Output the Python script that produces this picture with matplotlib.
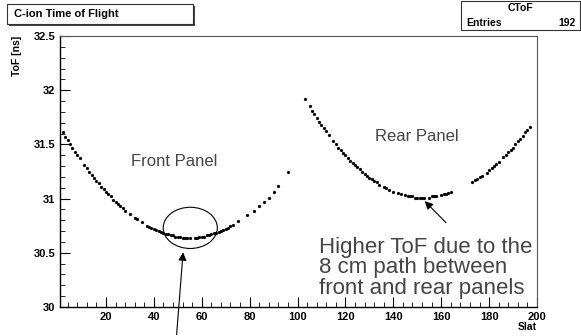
import numpy as np
import matplotlib.pyplot as plt
from matplotlib.patches import Ellipse, Rectangle

# Front panel slats and ToF [ns]
front_slat = [2, 3, 4, 5, 6, 7, 8, 9,
              11, 12, 13, 14, 15, 16, 17, 18, 19, 20, 21, 22, 23, 24, 25, 26, 27, 28,
              30, 32, 33, 35,
              37, 38, 39, 40, 41, 42, 43, 44, 45, 46, 47, 48, 49, 50, 51, 52, 53, 54, 55,
              57, 58, 59, 60, 61, 62, 63, 64, 65, 66, 67, 68, 69, 70, 71, 72, 73,
              75, 79, 82, 84, 86, 88, 90, 92, 96]
front_tof = [31.61, 31.57, 31.54, 31.50, 31.47, 31.43, 31.40, 31.37,
             31.31, 31.28, 31.25, 31.22, 31.19, 31.16, 31.14, 31.11, 31.09, 31.06, 31.04, 31.02,
             30.99, 30.97, 30.95, 30.93, 30.91, 30.89,
             30.86, 30.82, 30.81, 30.78,
             30.75, 30.74, 30.73, 30.72, 30.71, 30.70, 30.69, 30.68, 30.67, 30.67, 30.66, 30.66,
             30.65, 30.65, 30.65, 30.64, 30.64, 30.64, 30.64,
             30.64, 30.64, 30.65, 30.65, 30.65, 30.66, 30.66, 30.67, 30.68, 30.68, 30.69, 30.70,
             30.71, 30.72, 30.73, 30.75, 30.76,
             30.79, 30.85, 30.89, 30.93, 30.97, 31.01, 31.06, 31.12, 31.25]

# Rear panel slats and ToF [ns]
rear_slat = [103, 105, 106, 107, 108, 109, 110, 111, 112, 113,
             115, 116, 117, 118, 119, 120, 121, 122, 123, 124, 125, 126, 127, 128, 129, 130,
             131, 132, 133, 134,
             136, 137, 138, 140, 142, 143, 145, 146, 147, 148, 149, 150, 151, 152, 153,
             155, 156, 157, 158, 160, 161, 162, 163, 164,
             173, 174, 175, 176, 177, 179, 180, 181, 182, 183, 184,
             186, 187, 188, 189, 190, 191, 192, 193, 194, 195, 196, 197]
rear_tof = [31.92, 31.85, 31.81, 31.78, 31.74, 31.71, 31.68, 31.65, 31.62, 31.59,
            31.53, 31.50, 31.47, 31.45, 31.42, 31.40, 31.37, 31.35, 31.33, 31.31, 31.29, 31.27,
            31.25, 31.23, 31.21, 31.19,
            31.18, 31.16, 31.15, 31.13,
            31.11, 31.10, 31.08, 31.06, 31.05, 31.04, 31.03, 31.02, 31.02, 31.02, 31.01, 31.01,
            31.01, 31.01, 31.01,
            31.01, 31.02, 31.02, 31.02, 31.03, 31.04, 31.04, 31.05, 31.06,
            31.15, 31.17, 31.18, 31.20, 31.21, 31.24, 31.26, 31.28, 31.30, 31.32, 31.34,
            31.38, 31.40, 31.43, 31.45, 31.47, 31.50, 31.53, 31.55, 31.58, 31.61, 31.63, 31.66]

plt.rcParams['font.family'] = ['Liberation Sans', 'DejaVu Sans']

fig = plt.figure(figsize=(5.81, 3.36), dpi=100)
ax = fig.add_axes([60 / 581, 1 - 307 / 336, 477 / 581, 271 / 336])

ax.plot(front_slat, front_tof, 'o', color='black', ms=2.3, mew=0)
ax.plot(rear_slat, rear_tof, 'o', color='black', ms=2.3, mew=0)

ax.set_xlim(0.8, 200)
ax.set_ylim(30, 32.5)
ax.set_xticks(np.arange(20, 201, 20))
ax.set_xticks(np.arange(4, 201, 4), minor=True)
ax.set_yticks([30, 30.5, 31, 31.5, 32, 32.5])
ax.set_yticklabels(['30', '30.5', '31', '31.5', '32', '32.5'])
ax.set_yticks(np.arange(30, 32.51, 0.1), minor=True)
ax.tick_params(which='both', direction='in', labelsize=8)
ax.tick_params(which='major', length=7, width=0.8)
ax.tick_params(which='minor', length=3.5, width=0.6)
ax.tick_params(axis='y', which='both', right=False)
ax.tick_params(axis='x', which='both', top=False)
for lbl in ax.get_xticklabels() + ax.get_yticklabels():
    lbl.set_fontweight('bold')
ax.spines['top'].set_linestyle((0, (1, 1)))
ax.spines['top'].set_color('#555555')
ax.spines['right'].set_color('#555555')
ax.spines['left'].set_linewidth(1.0)
ax.spines['bottom'].set_linewidth(1.0)

fig.text(17 / 581, 1 - 36 / 336, 'ToF [ns]', rotation=90, ha='center', va='top',
         fontsize=7.5, fontweight='bold')
fig.text(537 / 581, 1 - 327 / 336, 'Slat', ha='right', va='center',
         fontsize=7.5, fontweight='bold')

# title box
fig.patches.append(Rectangle((9 / 581, 1 - 26 / 336), 186 / 581, 20 / 336,
                             transform=fig.transFigure, facecolor='#444444',
                             edgecolor='none', zorder=1))
fig.patches.append(Rectangle((7 / 581, 1 - 24 / 336), 186 / 581, 20 / 336,
                             transform=fig.transFigure, facecolor='white',
                             edgecolor='#333333', lw=0.8, zorder=2))
fig.text(14 / 581, 1 - 14 / 336, 'C-ion Time of Flight', ha='left', va='center',
         fontsize=8, fontweight='bold', zorder=3)

# stats box
fig.patches.append(Rectangle((461 / 581, 1 - 30 / 336), 119 / 581, 29 / 336,
                             transform=fig.transFigure, facecolor='white',
                             edgecolor='#333333', lw=0.8, zorder=2))
fig.lines.append(plt.Line2D([461 / 581, 580 / 581], [1 - 16 / 336, 1 - 16 / 336],
                            transform=fig.transFigure, color='#333333', lw=0.8))
fig.text(520 / 581, 1 - 8 / 336, 'CToF', ha='center', va='center',
         fontsize=7.5, fontweight='bold')
fig.text(466 / 581, 1 - 23 / 336, 'Entries', ha='left', va='center',
         fontsize=7.5, fontweight='bold')
fig.text(576 / 581, 1 - 23 / 336, '192', ha='right', va='center',
         fontsize=7.5, fontweight='bold')

# annotations
ax.text(48.5, 31.34, 'Front Panel', ha='center', va='center', fontsize=12, color='#444444')
ax.text(150, 31.57, 'Rear Panel', ha='center', va='center', fontsize=12, color='#444444')
ax.text(109, 30.36, 'Higher ToF due to the\n8 cm path between\nfront and rear panels',
        ha='left', va='center', fontsize=16, color='#444444', linespacing=0.95)
ax.add_patch(Ellipse((55.2, 30.73), 22.6, 0.38, fill=False, edgecolor='black', lw=0.8))
ax.annotate('', xy=(52.3, 30.53), xytext=(49.4, 29.72),
            arrowprops=dict(arrowstyle='-|>', color='black', lw=0.8, mutation_scale=12),
            annotation_clip=False)
ax.annotate('', xy=(152.3, 30.995), xytext=(162.8, 30.76),
            arrowprops=dict(arrowstyle='-|>', color='black', lw=0.8, mutation_scale=12))

fig.savefig('out.png', dpi=100)
